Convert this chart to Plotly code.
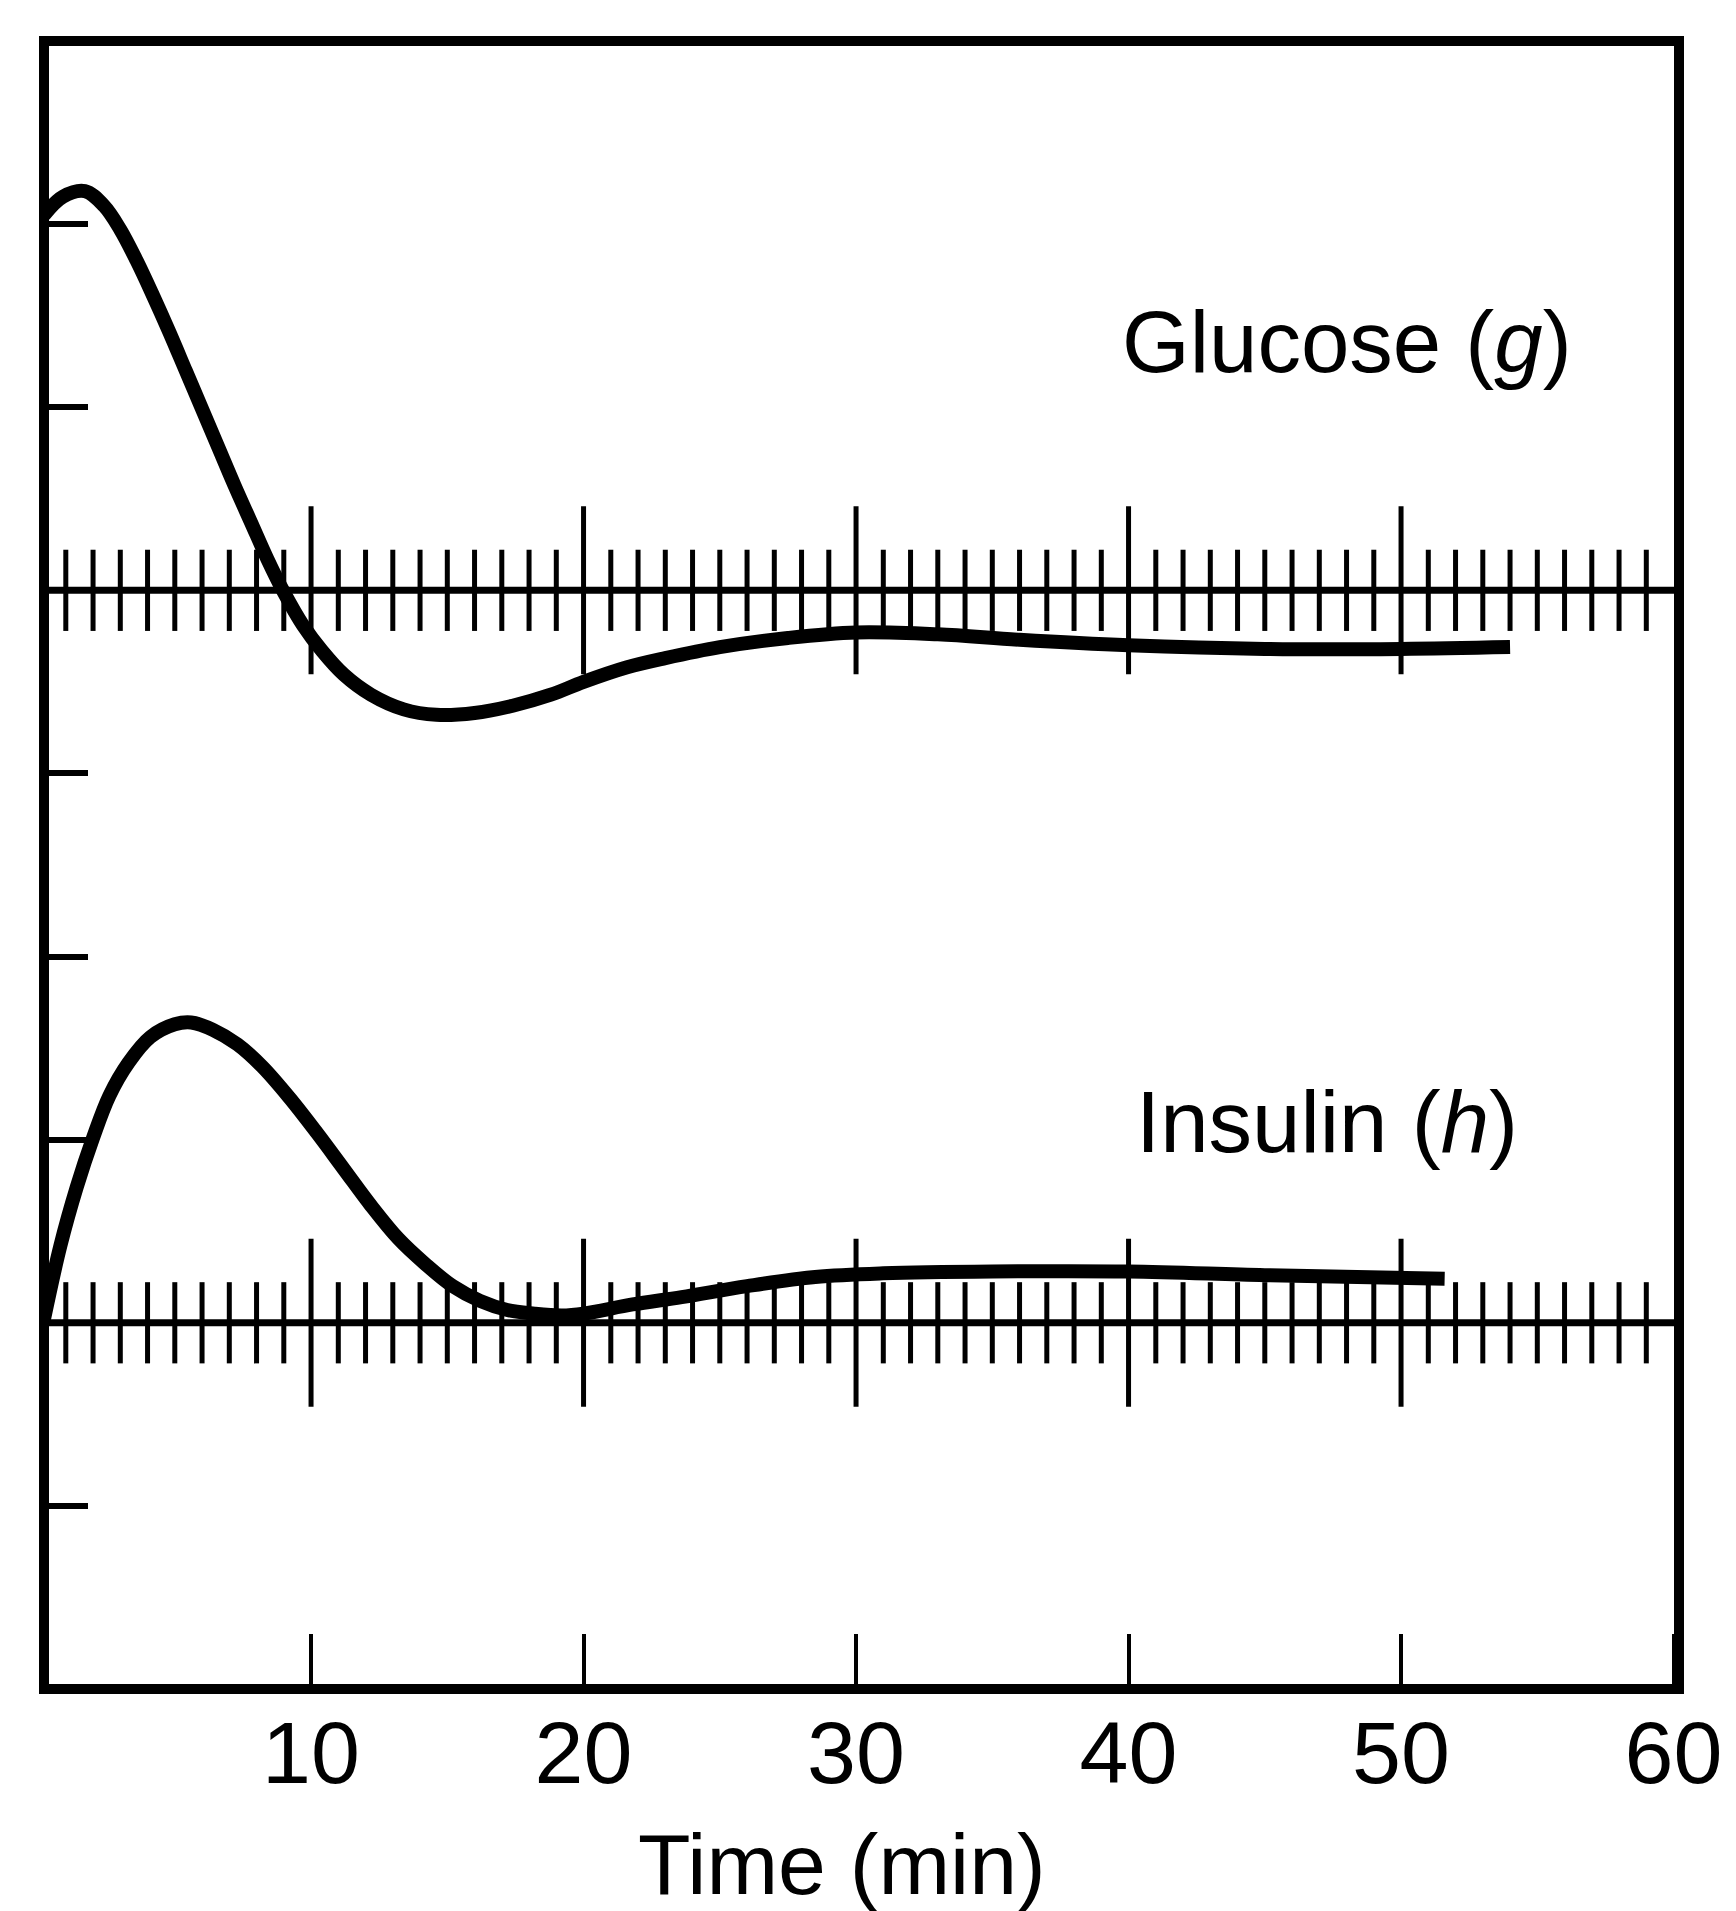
import plotly.graph_objects as go

# ---- data ----
time_glucose = [0.2, 0.9, 1.7, 2.4, 3.0, 3.6, 4.2, 4.8, 5.4, 6.0, 6.6, 7.2, 7.8, 8.4,
                9.0, 9.7, 10.4, 11.2, 12.2, 13.4, 14.6, 16.0, 17.4, 18.8, 20.0, 21.6,
                23.0, 25.0, 27.5, 30.0, 33.0, 36.0, 40.0, 45.0, 50.0, 54.0]
glucose = [8.05, 8.15, 8.18, 8.10, 7.97, 7.80, 7.61, 7.41, 7.20, 6.99, 6.78, 6.57, 6.37, 6.17,
           5.99, 5.81, 5.67, 5.54, 5.43, 5.35, 5.32, 5.33, 5.37, 5.43, 5.50, 5.58,
           5.63, 5.69, 5.74, 5.77, 5.76, 5.73, 5.70, 5.68, 5.68, 5.69]

time_insulin = [0.2, 0.8, 1.4, 2.0, 2.6, 3.3, 4.1, 5.0, 5.6, 6.4, 7.3, 8.2, 9.2, 10.2,
                11.2, 12.2, 13.2, 14.2, 15.2, 16.2, 17.2, 18.2, 19.2, 20.0, 21.8, 23.6,
                26.0, 28.5, 31.0, 35.0, 40.0, 45.0, 51.6]
insulin = [2.02, 2.42, 2.74, 3.01, 3.24, 3.42, 3.56, 3.63, 3.64, 3.60, 3.52, 3.40, 3.23, 3.04,
           2.84, 2.64, 2.46, 2.32, 2.20, 2.12, 2.07, 2.05, 2.04, 2.05, 2.10, 2.14,
           2.20, 2.25, 2.27, 2.28, 2.28, 2.26, 2.24]

glucose_baseline = 6
insulin_baseline = 2
minute_ticks = [m for m in range(1, 60) if m % 10 != 0]
ten_minute_ticks = [10, 20, 30, 40, 50]

x_tick_vals = [10, 20, 30, 40, 50, 60]
x_tick_text = ["10", "20", "30", "40", "50", "60"]
y_tick_vals = [1, 2, 3, 4, 5, 6, 7, 8]

X_RANGE = [0.2, 60.2]
Y_RANGE = [0, 9.0]
FONT = "Liberation Sans, Arial, sans-serif"

fig = go.Figure()

# hashed baselines
for base in (glucose_baseline, insulin_baseline):
    fig.add_trace(go.Scatter(x=X_RANGE, y=[base, base], mode="lines",
                             line=dict(color="black", width=7),
                             hoverinfo="skip", showlegend=False))
    fig.add_trace(go.Scatter(x=minute_ticks, y=[base] * len(minute_ticks), mode="markers",
                             marker=dict(symbol="line-ns", size=58,
                                         line=dict(color="black", width=5)),
                             hoverinfo="skip", showlegend=False))
    fig.add_trace(go.Scatter(x=ten_minute_ticks, y=[base] * len(ten_minute_ticks), mode="markers",
                             marker=dict(symbol="line-ns", size=120,
                                         line=dict(color="black", width=5)),
                             hoverinfo="skip", showlegend=False))

# curves
fig.add_trace(go.Scatter(x=time_glucose, y=glucose, mode="lines", name="Glucose (g)",
                         line=dict(color="black", width=14, shape="spline", smoothing=1.0),
                         showlegend=False))
fig.add_trace(go.Scatter(x=time_insulin, y=insulin, mode="lines", name="Insulin (h)",
                         line=dict(color="black", width=14, shape="spline", smoothing=1.0),
                         showlegend=False))

fig.add_annotation(x=39.7, y=7.36, xref="x", yref="y", text="Glucose (<i>g</i>)",
                   showarrow=False, xanchor="left", yanchor="middle",
                   font=dict(family=FONT, size=87, color="black"))
fig.add_annotation(x=40.2, y=3.10, xref="x", yref="y", text="Insulin (<i>h</i>)",
                   showarrow=False, xanchor="left", yanchor="middle",
                   font=dict(family=FONT, size=87, color="black"))
# x-axis title
fig.add_annotation(x=0.488, y=-0.106, xref="paper", yref="paper", text="Time (min)",
                   showarrow=False, xanchor="center", yanchor="middle",
                   font=dict(family=FONT, size=86, color="black"))

# frame
fig.add_shape(type="rect", xref="paper", yref="paper", x0=0, x1=1, y0=0, y1=1,
              line=dict(color="black", width=10), layer="above")

fig.update_layout(
    width=1736, height=1911,
    margin=dict(l=44, r=57, t=41, b=222),
    paper_bgcolor="white", plot_bgcolor="white",
    font=dict(family=FONT, size=88, color="black"),
    showlegend=False,
)
fig.update_xaxes(range=X_RANGE, tickvals=x_tick_vals, ticktext=x_tick_text,
                 ticks="inside", ticklen=55, tickwidth=4, tickcolor="black",
                 showgrid=False, zeroline=False, showline=False, automargin=False,
                 tickfont=dict(family=FONT, size=88, color="black"),
                 ticklabelstandoff=5)
fig.update_yaxes(range=Y_RANGE, tickvals=y_tick_vals, ticks="inside", ticklen=44,
                 tickwidth=6, tickcolor="black", showticklabels=False, automargin=False,
                 showgrid=False, zeroline=False, showline=False)

fig.write_html("out.html")
